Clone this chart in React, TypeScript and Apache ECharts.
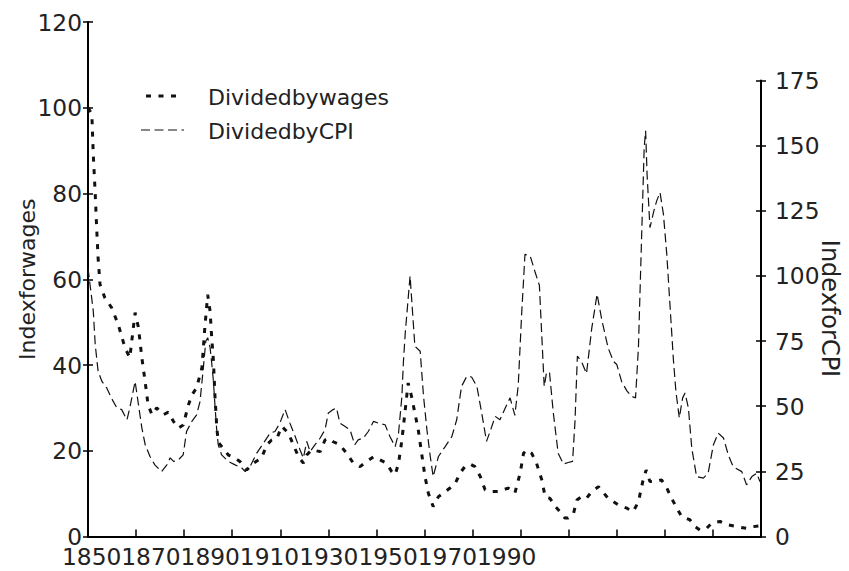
import React, { useEffect, useRef } from "react";
import * as echarts from "echarts";

// ---- data ----
const xTickLabels = ["1850", "1870", "1890", "1910", "1930", "1950", "1970", "1990"];
const leftTicks = [0, 20, 40, 60, 80, 100, 120];
const rightTicks = [0, 25, 50, 75, 100, 125, 150, 175];

const wagesYears = [
  1850, 1850.8, 1851.1, 1851.5, 1851.8, 1852.1, 1852.5, 1853.5, 1854.9, 1856.3,
  1857.7, 1858.7, 1859.8, 1860.5, 1861.2, 1861.9, 1862.5, 1863.3, 1864.3, 1865.7,
  1866.7, 1867.8, 1868.8, 1869.8, 1870.9, 1871.6, 1872.6, 1873.7, 1874.3, 1874.9,
  1875.4, 1875.7, 1876.1, 1876.4, 1876.8, 1877.1, 1877.8, 1879.2, 1880.6, 1881.6,
  1883.0, 1884.4, 1886.1, 1887.2, 1888.2, 1889.3, 1890.3, 1891.0, 1891.7, 1892.7,
  1893.8, 1894.8, 1895.5, 1896.5, 1898.3, 1899.3, 1900.0, 1901.0, 1902.4, 1903.8,
  1905.2, 1906.6, 1908.0, 1909.4, 1910.7, 1912.1, 1913.2, 1913.9, 1914.6, 1915.3,
  1916.0, 1916.6, 1917.3, 1918.0, 1918.7, 1919.4, 1920.1, 1920.8, 1921.8, 1922.9,
  1923.9, 1925.3, 1926.4, 1927.4, 1928.4, 1929.5, 1930.5, 1931.6, 1932.6, 1934.0,
  1935.4, 1937.4, 1938.8, 1939.9, 1940.6, 1941.3, 1942.3, 1943.3, 1944.4, 1945.1,
  1946.1, 1947.2, 1948.2, 1949.2, 1949.9, 1951.0, 1951.7, 1952.7, 1953.7, 1954.8,
  1956.2, 1958.2, 1960.3, 1962.1, 1963.4, 1964.5, 1965.4, 1966.1, 1966.9, 1968.0,
  1969.3, 1970.4, 1971.4, 1972.5, 1973.5, 1975.2, 1976.3, 1977.3, 1978.7, 1979.7,
  1981.5, 1983.2, 1984.9, 1987.0, 1988.4, 1989.8,
];
const wagesValues = [
  100, 98.5, 89, 80, 72, 65, 58.8, 55.7, 53.4, 49.4,
  44, 41.7, 52.2, 48.7, 41.7, 36, 30.7, 28.4, 30, 28.4,
  29, 26.8, 25.3, 26, 30.7, 33, 34.7, 39.4, 48.7, 56.4,
  52.5, 47, 40.8, 33, 25.3, 22, 21, 19, 18.3, 17.5,
  15.5, 17.1, 18.3, 21.4, 22.5, 22.9, 25.7, 24.9, 24.1, 21.4,
  18.6, 17.1, 19, 20.2, 19.8, 22.5, 22.9, 22.1, 21.4, 19.4,
  17.1, 16.3, 17.5, 18.6, 17.9, 17.1, 15.1, 14.4, 17.1, 22.5,
  29.6, 35.8, 32.7, 28.8, 24.9, 19.4, 14, 10.1, 7, 9.3,
  10.1, 11.3, 12.4, 14.8, 16.3, 16.9, 16.3, 14, 10.9, 10.5,
  10.5, 11.3, 10.1, 14.8, 19.4, 20.2, 19.4, 17.1, 13.2, 9.3,
  8.9, 7, 5.8, 4.3, 4.3, 5.4, 8.5, 9.3, 8.9, 10.5,
  11.6, 8.9, 7.4, 6.6, 5.8, 8.1, 12.8, 15.5, 12.8, 12.8,
  13.2, 11.3, 8.9, 6.6, 4.6, 3.9, 2.3, 1.5, 1.9, 3.1,
  3.5, 2.7, 2.3, 1.9, 2.3, 2.5,
];

const cpiYears = [
  1850, 1851.1, 1851.5, 1852.1, 1852.9, 1853.9, 1854.9, 1856.0, 1857.0, 1858.1,
  1858.7, 1859.8, 1860.5, 1861.2, 1861.9, 1862.9, 1863.9, 1865.3, 1866.4, 1867.1,
  1867.8, 1868.8, 1869.8, 1870.5, 1871.6, 1872.6, 1873.3, 1874.0, 1874.5, 1874.9,
  1875.4, 1875.7, 1876.1, 1876.4, 1876.8, 1877.1, 1877.8, 1879.2, 1880.6, 1882.0,
  1882.7, 1883.7, 1885.1, 1886.5, 1887.9, 1888.9, 1889.9, 1891.0, 1892.0, 1893.1,
  1894.1, 1894.8, 1895.5, 1896.2, 1897.2, 1898.3, 1899.3, 1900.0, 1901.0, 1901.7,
  1902.4, 1903.5, 1904.5, 1905.5, 1906.2, 1907.3, 1908.3, 1909.4, 1910.4, 1911.8,
  1912.8, 1913.9, 1914.6, 1915.3, 1915.6, 1916.0, 1917.0, 1918.0, 1919.1, 1919.8,
  1920.5, 1921.2, 1921.8, 1922.9, 1924.3, 1925.7, 1926.7, 1927.7, 1928.8, 1929.8,
  1930.9, 1931.9, 1932.9, 1934.0, 1934.7, 1935.7, 1936.8, 1937.8, 1938.8, 1939.5,
  1940.2, 1940.9, 1942.0, 1943.0, 1943.9, 1944.4, 1944.9, 1945.4, 1946.0, 1946.8,
  1947.8, 1948.9, 1949.9, 1950.8, 1951.3, 1951.8, 1952.7, 1953.7, 1954.8, 1955.9,
  1956.9, 1958.2, 1959.3, 1960.0, 1961.0, 1962.1, 1963.1, 1963.9, 1964.5, 1965.0,
  1965.4, 1965.7, 1966.0, 1966.3, 1966.9, 1967.7, 1968.3, 1969.0, 1969.7, 1970.4,
  1971.1, 1971.8, 1972.3, 1973.0, 1973.7, 1974.2, 1974.9, 1975.6, 1976.6, 1978.0,
  1979.0, 1980.1, 1981.1, 1982.2, 1983.2, 1984.2, 1986.0, 1987.0, 1988.1, 1989.1,
  1989.8,
];
const cpiValues = [
  103, 86.5, 73.7, 63.4, 59.5, 57, 53, 49.4, 48.7, 44.8,
  49.4, 59.5, 50.6, 41.7, 35.2, 30.7, 27.5, 24.9, 27.5, 30.2,
  28.8, 29.4, 31.3, 40.3, 44.2, 46.7, 51.8, 64.8, 74.9, 76.3,
  72.5, 67.2, 59.5, 50.6, 40.3, 35.2, 31.3, 28.8, 27.5, 26.3,
  24.9, 26.8, 32, 35.8, 39.7, 40.3, 43.5, 48.7, 43.5, 38.4,
  33.3, 30.1, 36.5, 32.6, 35.2, 37.8, 41, 47.4, 48.7, 49.3,
  43.5, 42.2, 41, 35.2, 37.1, 37.8, 40.3, 44.2, 43.5, 42.9,
  38.4, 34.5, 39.7, 53.8, 66.6, 78.2, 100, 73, 71.1, 53.8,
  41, 30.7, 23, 30.7, 34.5, 38.4, 44.8, 57.6, 61.5, 61.2,
  57.6, 47.4, 36.5, 42.2, 46.1, 44.8, 49.3, 53.2, 46.5, 58,
  85, 108.3, 107.6, 101.5, 96.4, 77, 57.6, 63, 63, 47.4,
  32, 27.8, 28.4, 28.8, 44, 69.2, 67, 62.5, 80, 93,
  83, 72.4, 67.2, 66, 59.5, 55.9, 53.8, 53.2, 72.4, 104.4,
  130, 149.3, 155.7, 139, 118.5, 124.9, 128.8, 132, 123.7, 108.3,
  87.8, 67.2, 55.7, 45.5, 53.2, 55.1, 49.3, 33.9, 23, 22.4,
  24.3, 35.2, 39.7, 37.8, 31.3, 26.8, 24.9, 19.8, 23, 24.3,
  21,
];

const seriesNames = ["Dividedbywages", "DividedbyCPI"];
const axisNames = ["Indexforwages", "IndexforCPI"];

// ---- styling ----
const FONT = "DejaVu Sans";
const TXT = "#222";
const INK = "#111";

const zip = (xs: number[], ys: number[]) => xs.map((x, i) => [x, ys[i]]);

function buildOption() {
  const leftInterval = leftTicks[1] - leftTicks[0];
  const rightInterval = rightTicks[1] - rightTicks[0];
  const axisLine = { show: true, onZero: false, lineStyle: { color: "#000", width: 2 } };
  const tickStyle = { color: "#000", width: 1.5 };
  return {
    animation: false,
    backgroundColor: "#ffffff",
    grid: [
      { left: 88, right: 88, top: 22, bottom: 34.5, containLabel: false, outerBoundsMode: "none" },
      { left: 88, right: 88, top: 80.5, bottom: 34.5, containLabel: false, outerBoundsMode: "none" },
    ],
    xAxis: [
      {
        type: "value",
        gridIndex: 0,
        min: 1850,
        max: 1990,
        interval: 10,
        axisLine,
        axisTick: { show: true, inside: true, length: 7, lineStyle: tickStyle },
        axisLabel: { show: false },
        splitLine: { show: false },
      },
      { type: "value", gridIndex: 1, min: 1850, max: 1990, show: false },
    ],
    yAxis: [
      {
        type: "value",
        gridIndex: 0,
        position: "left",
        min: leftTicks[0],
        max: leftTicks[leftTicks.length - 1],
        interval: leftInterval,
        name: axisNames[0],
        nameLocation: "middle",
        nameRotate: 90,
        nameGap: 50,
        nameMoveOverlap: false,
        nameTextStyle: { fontFamily: FONT, fontSize: 22, color: TXT },
        axisLine,
        axisTick: { show: true, inside: false, length: 5, lineStyle: tickStyle },
        axisLabel: { fontFamily: FONT, fontSize: 23.3, color: TXT, margin: 6 },
        splitLine: { show: false },
      },
      {
        type: "value",
        gridIndex: 1,
        position: "right",
        min: rightTicks[0],
        max: rightTicks[rightTicks.length - 1],
        interval: rightInterval,
        name: axisNames[1],
        nameLocation: "middle",
        nameRotate: -90,
        nameGap: 57,
        nameMoveOverlap: false,
        nameTextStyle: { fontFamily: FONT, fontSize: 24, color: TXT },
        axisLine,
        axisTick: { show: true, inside: false, length: 5, lineStyle: tickStyle },
        axisLabel: { fontFamily: FONT, fontSize: 23.3, color: TXT, margin: 14 },
        splitLine: { show: false },
      },
      {
        type: "value",
        gridIndex: 0,
        position: "left",
        min: leftTicks[0],
        max: leftTicks[leftTicks.length - 1],
        interval: leftInterval,
        axisLine: { show: false },
        axisTick: { show: true, inside: true, length: 5, lineStyle: tickStyle },
        axisLabel: { show: false },
        splitLine: { show: false },
      },
      {
        type: "value",
        gridIndex: 1,
        position: "right",
        min: rightTicks[0],
        max: rightTicks[rightTicks.length - 1],
        interval: rightInterval,
        axisLine: { show: false },
        axisTick: { show: true, inside: true, length: 5, lineStyle: tickStyle },
        axisLabel: { show: false },
        splitLine: { show: false },
      },
    ],
    series: [
      {
        type: "line",
        name: seriesNames[0],
        xAxisIndex: 0,
        yAxisIndex: 0,
        data: zip(wagesYears, wagesValues),
        showSymbol: false,
        symbol: "none",
        lineStyle: { color: INK, width: 3, type: [5, 7.5], cap: "butt" },
        z: 3,
      },
      {
        type: "line",
        name: seriesNames[1],
        xAxisIndex: 1,
        yAxisIndex: 1,
        data: zip(cpiYears, cpiValues),
        showSymbol: false,
        symbol: "none",
        lineStyle: { color: INK, width: 1.2, type: [9, 4.5], cap: "butt" },
        z: 2,
      },
    ],
    graphic: [
      {
        type: "text",
        x: 62,
        y: 556,
        style: {
          text: xTickLabels.join(""),
          fill: TXT,
          fontFamily: FONT,
          fontSize: 23.3,
          textAlign: "left",
          textVerticalAlign: "middle",
        },
      },
      {
        type: "line",
        shape: { x1: 146, y1: 96, x2: 176, y2: 96 },
        style: { stroke: INK, lineWidth: 3, lineDash: [5, 7.5] },
      },
      {
        type: "text",
        x: 208,
        y: 97,
        style: {
          text: seriesNames[0],
          fill: TXT,
          fontFamily: FONT,
          fontSize: 22,
          textAlign: "left",
          textVerticalAlign: "middle",
        },
      },
      {
        type: "line",
        shape: { x1: 141, y1: 130, x2: 184, y2: 130 },
        style: { stroke: INK, lineWidth: 1.2, lineDash: [9, 4.5] },
      },
      {
        type: "text",
        x: 208,
        y: 131,
        style: {
          text: seriesNames[1],
          fill: TXT,
          fontFamily: FONT,
          fontSize: 22,
          textAlign: "left",
          textVerticalAlign: "middle",
        },
      },
    ],
  };
}

export default function App() {
  const ref = useRef<HTMLDivElement>(null);
  useEffect(() => {
    document.body.style.margin = "0";
    const chart = echarts.init(ref.current as HTMLDivElement, null, { renderer: "svg" });
    chart.setOption(buildOption() as any);
    return () => chart.dispose();
  }, []);
  return <div ref={ref} style={{ width: 849, height: 571 }} />;
}
